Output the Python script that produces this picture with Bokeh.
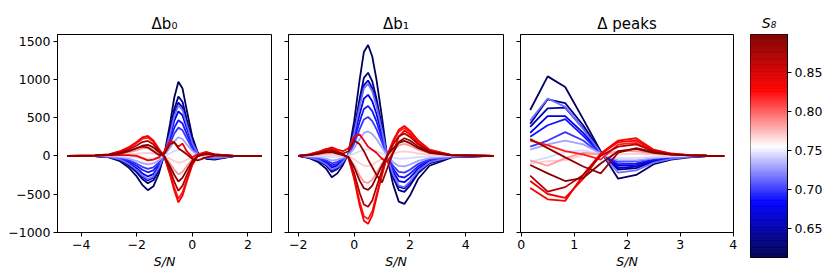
import numpy as np
from bokeh.plotting import figure
from bokeh.layouts import row
from bokeh.models import Range1d, FixedTicker, PrintfTickFormatter
from bokeh.embed import file_html
from bokeh.resources import INLINE

# ---------------- data ----------------
s8_values = [0.620, 0.635, 0.655, 0.675, 0.690, 0.700, 0.715, 0.730, 0.745,
             0.770, 0.785, 0.820, 0.830, 0.835, 0.870, 0.885, 0.895]

x_b0 = [-4.5, -3.5, -3.0, -2.6, -2.3, -2.0, -1.8, -1.6, -1.4, -1.2, -1.0, -0.8,
        -0.65, -0.5, -0.35, -0.2, 0.0, 0.2, 0.5, 0.8, 1.5, 2.5]
db0_c01 = [0, -5, -20, -70, -150, -270, -380, -450, -400, -230, 30, 420, 760, 970, 880, 600, 250, 40, -40, -50, -5, 0]
db0_c02 = [0, -4, -16, -56, -120, -216, -304, -360, -320, -184, 24, 336, 608, 776, 704, 480, 200, 32, -32, -40, -4, 0]
db0_c03 = [0, -4, -14, -50, -108, -194, -274, -324, -288, -166, 22, 302, 547, 698, 634, 432, 180, 29, -29, -36, -4, 0]
db0_c04 = [0, -3, -12, -42, -90, -162, -228, -270, -240, -138, 18, 252, 456, 582, 528, 360, 150, 24, -24, -30, -3, 0]
db0_c05 = [0, -2, -10, -34, -72, -130, -182, -216, -192, -110, 14, 202, 365, 466, 422, 288, 120, 19, -19, -24, -2, 0]
db0_c06 = [0, -2, -8, -27, -57, -103, -144, -171, -152, -87, 11, 160, 289, 369, 334, 228, 95, 15, -15, -19, -2, 0]
db0_c07 = [0, -3, -14, -48, -102, -184, -258, -306, -272, -156, 20, 286, 517, 660, 598, 408, 170, 27, -27, -34, -3, 0]
db0_c08 = [0, -1, -5, -18, -38, -68, -95, -113, -100, -58, 8, 105, 190, 243, 220, 150, 63, 10, -10, -13, -1, 0]
db0_c09 = [0, 0, -2, -6, -12, -22, -30, -36, -32, -18, 2, 34, 61, 78, 70, 48, 20, 3, -3, -4, 0, 0]
db0_c10 = [0, 1, 3, 9, 17, 27, 36, 39, 30, 14, -3, -38, -68, -92, -78, -51, -18, 0, 6, 3, 0, 0]
db0_c11 = [0, 2, 8, 24, 44, 72, 96, 104, 80, 36, -8, -100, -180, -244, -208, -136, -48, 0, 16, 8, 0, 0]
db0_c12 = [0, 5, 18, 55, 101, 166, 221, 239, 184, 83, -18, -230, -414, -561, -478, -313, -110, 0, 37, 18, 0, 0]
db0_c13 = [0, 5, 20, 60, 110, 180, 240, 260, 200, 90, -20, -250, -450, -610, -520, -340, -120, 0, 40, 20, 0, 0]
db0_c14 = [0, 2, 5, 10, 10, 0, -30, -60, -50, -20, 60, 200, 170, 120, 160, 60, -20, 20, 50, 20, 0, 0]
db0_c15 = [0, 4, 15, 45, 83, 135, 180, 195, 150, 68, -15, -188, -338, -458, -390, -255, -90, 0, 30, 15, 0, 0]
db0_c16 = [0, 3, 10, 30, 60, 100, 120, 110, 60, 10, 30, 150, 180, 100, 60, 20, -40, -60, -20, 0, 0, 0]
db0_c17 = [0, 3, 11, 33, 61, 99, 132, 143, 110, 50, -11, -138, -248, -336, -286, -187, -66, 0, 22, 11, 0, 0]

x_b1 = [-2.0, -1.6, -1.3, -1.0, -0.8, -0.6, -0.4, -0.2, 0.0, 0.2, 0.35, 0.5, 0.65, 0.8,
        1.0, 1.2, 1.4, 1.6, 1.8, 2.0, 2.3, 2.7, 3.5, 5.0]
db1_c01 = [0, -30, -80, -170, -280, -230, -120, 30, 450, 1000, 1360, 1450, 1300, 1000, 500, -50, -380, -600, -630, -520, -300, -130, -20, 0]
db1_c02 = [0, -22, -60, -128, -210, -172, -90, 22, 338, 750, 1020, 1088, 975, 750, 375, -38, -285, -450, -472, -390, -225, -98, -15, 0]
db1_c03 = [0, -20, -54, -116, -190, -156, -82, 20, 306, 680, 925, 986, 884, 680, 340, -34, -258, -408, -428, -354, -204, -88, -14, 0]
db1_c04 = [0, -16, -44, -94, -154, -126, -66, 16, 248, 550, 748, 798, 715, 550, 275, -28, -209, -330, -346, -286, -165, -72, -11, 0]
db1_c05 = [0, -14, -36, -76, -126, -104, -54, 14, 202, 450, 612, 652, 585, 450, 225, -22, -171, -270, -284, -234, -135, -58, -9, 0]
db1_c06 = [0, -10, -28, -60, -98, -80, -42, 10, 158, 350, 476, 508, 455, 350, 175, -18, -133, -210, -220, -182, -105, -46, -7, 0]
db1_c07 = [0, -20, -52, -110, -182, -150, -78, 20, 292, 650, 884, 942, 845, 650, 325, -32, -247, -390, -410, -338, -195, -84, -13, 0]
db1_c08 = [0, -7, -18, -37, -62, -51, -26, 7, 99, 220, 299, 319, 286, 220, 110, -11, -84, -132, -139, -114, -66, -29, -4, 0]
db1_c09 = [0, -2, -5, -10, -17, -14, -7, 2, 27, 60, 82, 87, 78, 60, 30, -3, -23, -36, -38, -31, -18, -8, -1, 0]
db1_c10 = [0, 3, 8, 14, 15, 9, 3, -5, -45, -98, -128, -134, -117, -82, -38, 3, 30, 51, 58, 50, 30, 12, 2, 0]
db1_c11 = [0, 8, 20, 36, 40, 24, 8, -12, -120, -260, -340, -356, -312, -220, -100, 8, 80, 136, 156, 132, 80, 32, 4, 0]
db1_c12 = [0, 19, 47, 84, 93, 56, 19, -28, -279, -605, -790, -828, -725, -512, -232, 19, 186, 316, 363, 307, 186, 74, 9, 0]
db1_c13 = [0, 20, 50, 90, 100, 60, 20, -30, -300, -650, -850, -890, -780, -550, -250, 20, 200, 340, 390, 330, 200, 80, 10, 0]
db1_c14 = [0, 15, 40, 80, 110, 80, 60, 100, 250, 280, 200, 120, 80, 40, -40, -80, 50, 250, 330, 280, 160, 60, 8, 0]
db1_c15 = [0, 15, 38, 68, 75, 45, 15, -22, -225, -488, -638, -668, -585, -412, -188, 15, 150, 255, 292, 248, 150, 60, 8, 0]
db1_c16 = [0, 10, 30, 60, 70, 40, 30, 60, 200, 150, 60, -50, -150, -250, -350, -150, 40, 180, 230, 200, 120, 50, 5, 0]
db1_c17 = [0, 10, 25, 45, 50, 30, 10, -15, -150, -325, -425, -445, -390, -275, -125, 10, 100, 170, 195, 165, 100, 40, 5, 0]

x_peaks = [0.17, 0.5, 0.83, 1.17, 1.5, 1.83, 2.17, 2.5, 2.83, 3.17, 3.5, 3.83]
dpk_c01 = [600, 1040, 900, 480, 60, -300, -250, -110, -50, -20, -5, 0]
dpk_c02 = [420, 740, 690, 400, 50, -180, -160, -80, -35, -15, -4, 0]
dpk_c03 = [380, 620, 630, 360, 40, -160, -140, -70, -30, -12, -3, 0]
dpk_c04 = [300, 520, 520, 300, 40, -130, -120, -60, -25, -10, -3, 0]
dpk_c05 = [250, 400, 480, 260, 30, -110, -100, -50, -20, -8, -2, 0]
dpk_c06 = [120, 200, 310, 200, 20, -80, -70, -35, -15, -6, -2, 0]
dpk_c07 = [460, 750, 640, 350, 40, -220, -190, -90, -40, -15, -4, 0]
dpk_c08 = [80, 150, 200, 150, 30, -60, -60, -30, -12, -5, -1, 0]
dpk_c09 = [-80, -20, 50, 70, 20, -30, -30, -15, -6, -2, 0, 0]
dpk_c10 = [-100, -70, -60, 10, 30, 20, 30, 15, 6, 2, 0, 0]
dpk_c11 = [-60, -130, -30, 40, 20, 60, 60, 30, 12, 5, 1, 0]
dpk_c12 = [200, 140, 60, 20, -50, 150, 170, 60, 25, 10, 3, 0]
dpk_c13 = [-420, -570, -590, -250, 30, 200, 230, 80, 30, 10, 3, 0]
dpk_c14 = [-330, -500, -550, -300, 20, 180, 200, 70, 25, 8, 2, 0]
dpk_c15 = [-260, -470, -410, -250, 0, 120, 150, 60, 20, 6, 2, 0]
dpk_c16 = [220, 100, -20, -140, -230, 40, 100, 50, 20, 6, 2, 0]
dpk_c17 = [-120, -230, -330, -290, -100, 60, 90, 40, 15, 5, 1, 0]

db0_curves = [db0_c01, db0_c02, db0_c03, db0_c04, db0_c05, db0_c06, db0_c07, db0_c08, db0_c09,
              db0_c10, db0_c11, db0_c12, db0_c13, db0_c14, db0_c15, db0_c16, db0_c17]
db1_curves = [db1_c01, db1_c02, db1_c03, db1_c04, db1_c05, db1_c06, db1_c07, db1_c08, db1_c09,
              db1_c10, db1_c11, db1_c12, db1_c13, db1_c14, db1_c15, db1_c16, db1_c17]
dpk_curves = [dpk_c01, dpk_c02, dpk_c03, dpk_c04, dpk_c05, dpk_c06, dpk_c07, dpk_c08, dpk_c09,
              dpk_c10, dpk_c11, dpk_c12, dpk_c13, dpk_c14, dpk_c15, dpk_c16, dpk_c17]

s8_low, s8_high = 0.613, 0.899
cbar_ticks = [0.65, 0.70, 0.75, 0.80, 0.85]
y_ticks = [-1000, -500, 0, 500, 1000, 1500]

# ---------------- colormap (seismic) ----------------
_stops = [(0.0, (0.0, 0.0, 0.3)), (0.25, (0.0, 0.0, 1.0)), (0.5, (1.0, 1.0, 1.0)),
          (0.75, (1.0, 0.0, 0.0)), (1.0, (0.5, 0.0, 0.0))]


def seismic(t):
    t = min(max(t, 0.0), 1.0)
    for (t0, c0), (t1, c1) in zip(_stops[:-1], _stops[1:]):
        if t <= t1:
            f = (t - t0) / (t1 - t0)
            rgb = [c0[i] + f * (c1[i] - c0[i]) for i in range(3)]
            return "#%02x%02x%02x" % tuple(int(round(255 * v)) for v in rgb)
    return "#800000"


def s8_color(s):
    return seismic((s - s8_low) / (s8_high - s8_low))


FONT = "DejaVu Sans"
MINUS = "\u2212"


def lab(v):
    return ("%g" % v).replace("-", MINUS)


def style(p, xticks, show_ylabels):
    p.grid.visible = False
    p.outline_line_color = "black"
    p.outline_line_width = 1
    p.outline_line_alpha = 1
    for ax in (p.xaxis[0], p.yaxis[0]):
        ax.axis_line_color = "black"
        ax.major_tick_in = 0
        ax.major_tick_out = 4
        ax.minor_tick_line_color = None
        ax.major_tick_line_color = "black"
        ax.major_label_text_font = FONT
        ax.major_label_text_font_size = "12.5px"
        ax.major_label_text_color = "black"
        ax.major_label_standoff = 3
    p.xaxis.ticker = FixedTicker(ticks=xticks)
    p.xaxis.major_label_overrides = {float(t): lab(t) for t in xticks}
    p.yaxis.ticker = FixedTicker(ticks=y_ticks)
    if show_ylabels:
        p.yaxis.major_label_overrides = {float(t): lab(t) for t in y_ticks}
    else:
        p.yaxis.major_label_overrides = {float(t): "" for t in y_ticks}
        p.yaxis.major_label_standoff = 0
    p.xaxis.axis_label = "S/N"
    p.xaxis.axis_label_text_font = FONT
    p.xaxis.axis_label_text_font_style = "italic"
    p.xaxis.axis_label_text_font_size = "12.5px"
    p.xaxis.axis_label_text_color = "black"
    p.xaxis.axis_label_standoff = 2
    p.title.align = "center"
    p.title.text_font = FONT
    p.title.text_font_size = "15px"
    p.title.text_font_style = "normal"
    p.title.text_color = "black"
    p.title.standoff = 4


yr = Range1d(-1004, 1588)
FH = 198
FIG_H = 270


def make_panel(title, xr, xs, curves, xticks, left, right, fw, show_ylabels):
    p = figure(title=title, x_range=xr, y_range=yr, frame_width=fw, frame_height=FH,
               height=FIG_H, output_backend="svg", toolbar_location=None,
               min_border_left=left, min_border_right=right, min_border_top=34,
               min_border_bottom=38)
    for s8, ys in zip(s8_values, curves):
        p.line(xs, ys, line_color=s8_color(s8), line_width=1.8)
    style(p, xticks, show_ylabels)
    return p


p1 = make_panel("\u0394b\u2080", Range1d(-4.85, 2.85), x_b0, db0_curves, [-4, -2, 0, 2], 57, 5, 214, True)
p2 = make_panel("\u0394b\u2081", Range1d(-2.35, 5.35), x_b1, db1_curves, [-2, 0, 2, 4], 12, 5, 215, False)
p3 = make_panel("\u0394 peaks", Range1d(-0.013, 4.006), x_peaks, dpk_curves, [0, 1, 2, 3, 4], 12, 5, 213, False)

# ---------------- colorbar ----------------
n = 256
edges = np.linspace(s8_low, s8_high, n + 1)
mids = 0.5 * (edges[:-1] + edges[1:])
cols = [s8_color(m) for m in mids]
p4 = figure(title="S\u2088", x_range=Range1d(0, 1), y_range=Range1d(s8_low, s8_high),
            frame_width=37, frame_height=223, height=FIG_H, output_backend="svg",
            toolbar_location=None, y_axis_location="right",
            min_border_left=12, min_border_right=40, min_border_top=31, min_border_bottom=16)
p4.quad(left=0, right=1, bottom=edges[:-1], top=edges[1:], fill_color=cols,
        line_color=cols, line_width=0.6)
p4.xaxis.visible = False
p4.grid.visible = False
p4.outline_line_color = "black"
p4.outline_line_width = 1
ya = p4.yaxis[0]
ya.ticker = FixedTicker(ticks=cbar_ticks)
ya.formatter = PrintfTickFormatter(format="%.2f")
ya.major_tick_in = 0
ya.major_tick_out = 4
ya.minor_tick_line_color = None
ya.axis_line_color = "black"
ya.major_label_text_font = FONT
ya.major_label_text_font_size = "12.5px"
ya.major_label_text_color = "black"
ya.major_label_standoff = 3
p4.title.align = "center"
p4.title.text_font = FONT
p4.title.text_font_size = "14px"
p4.title.text_font_style = "italic"
p4.title.text_color = "black"
p4.title.standoff = 8

layout = row(p1, p2, p3, p4, spacing=0)
open("out.html", "w").write(file_html(layout, INLINE))
